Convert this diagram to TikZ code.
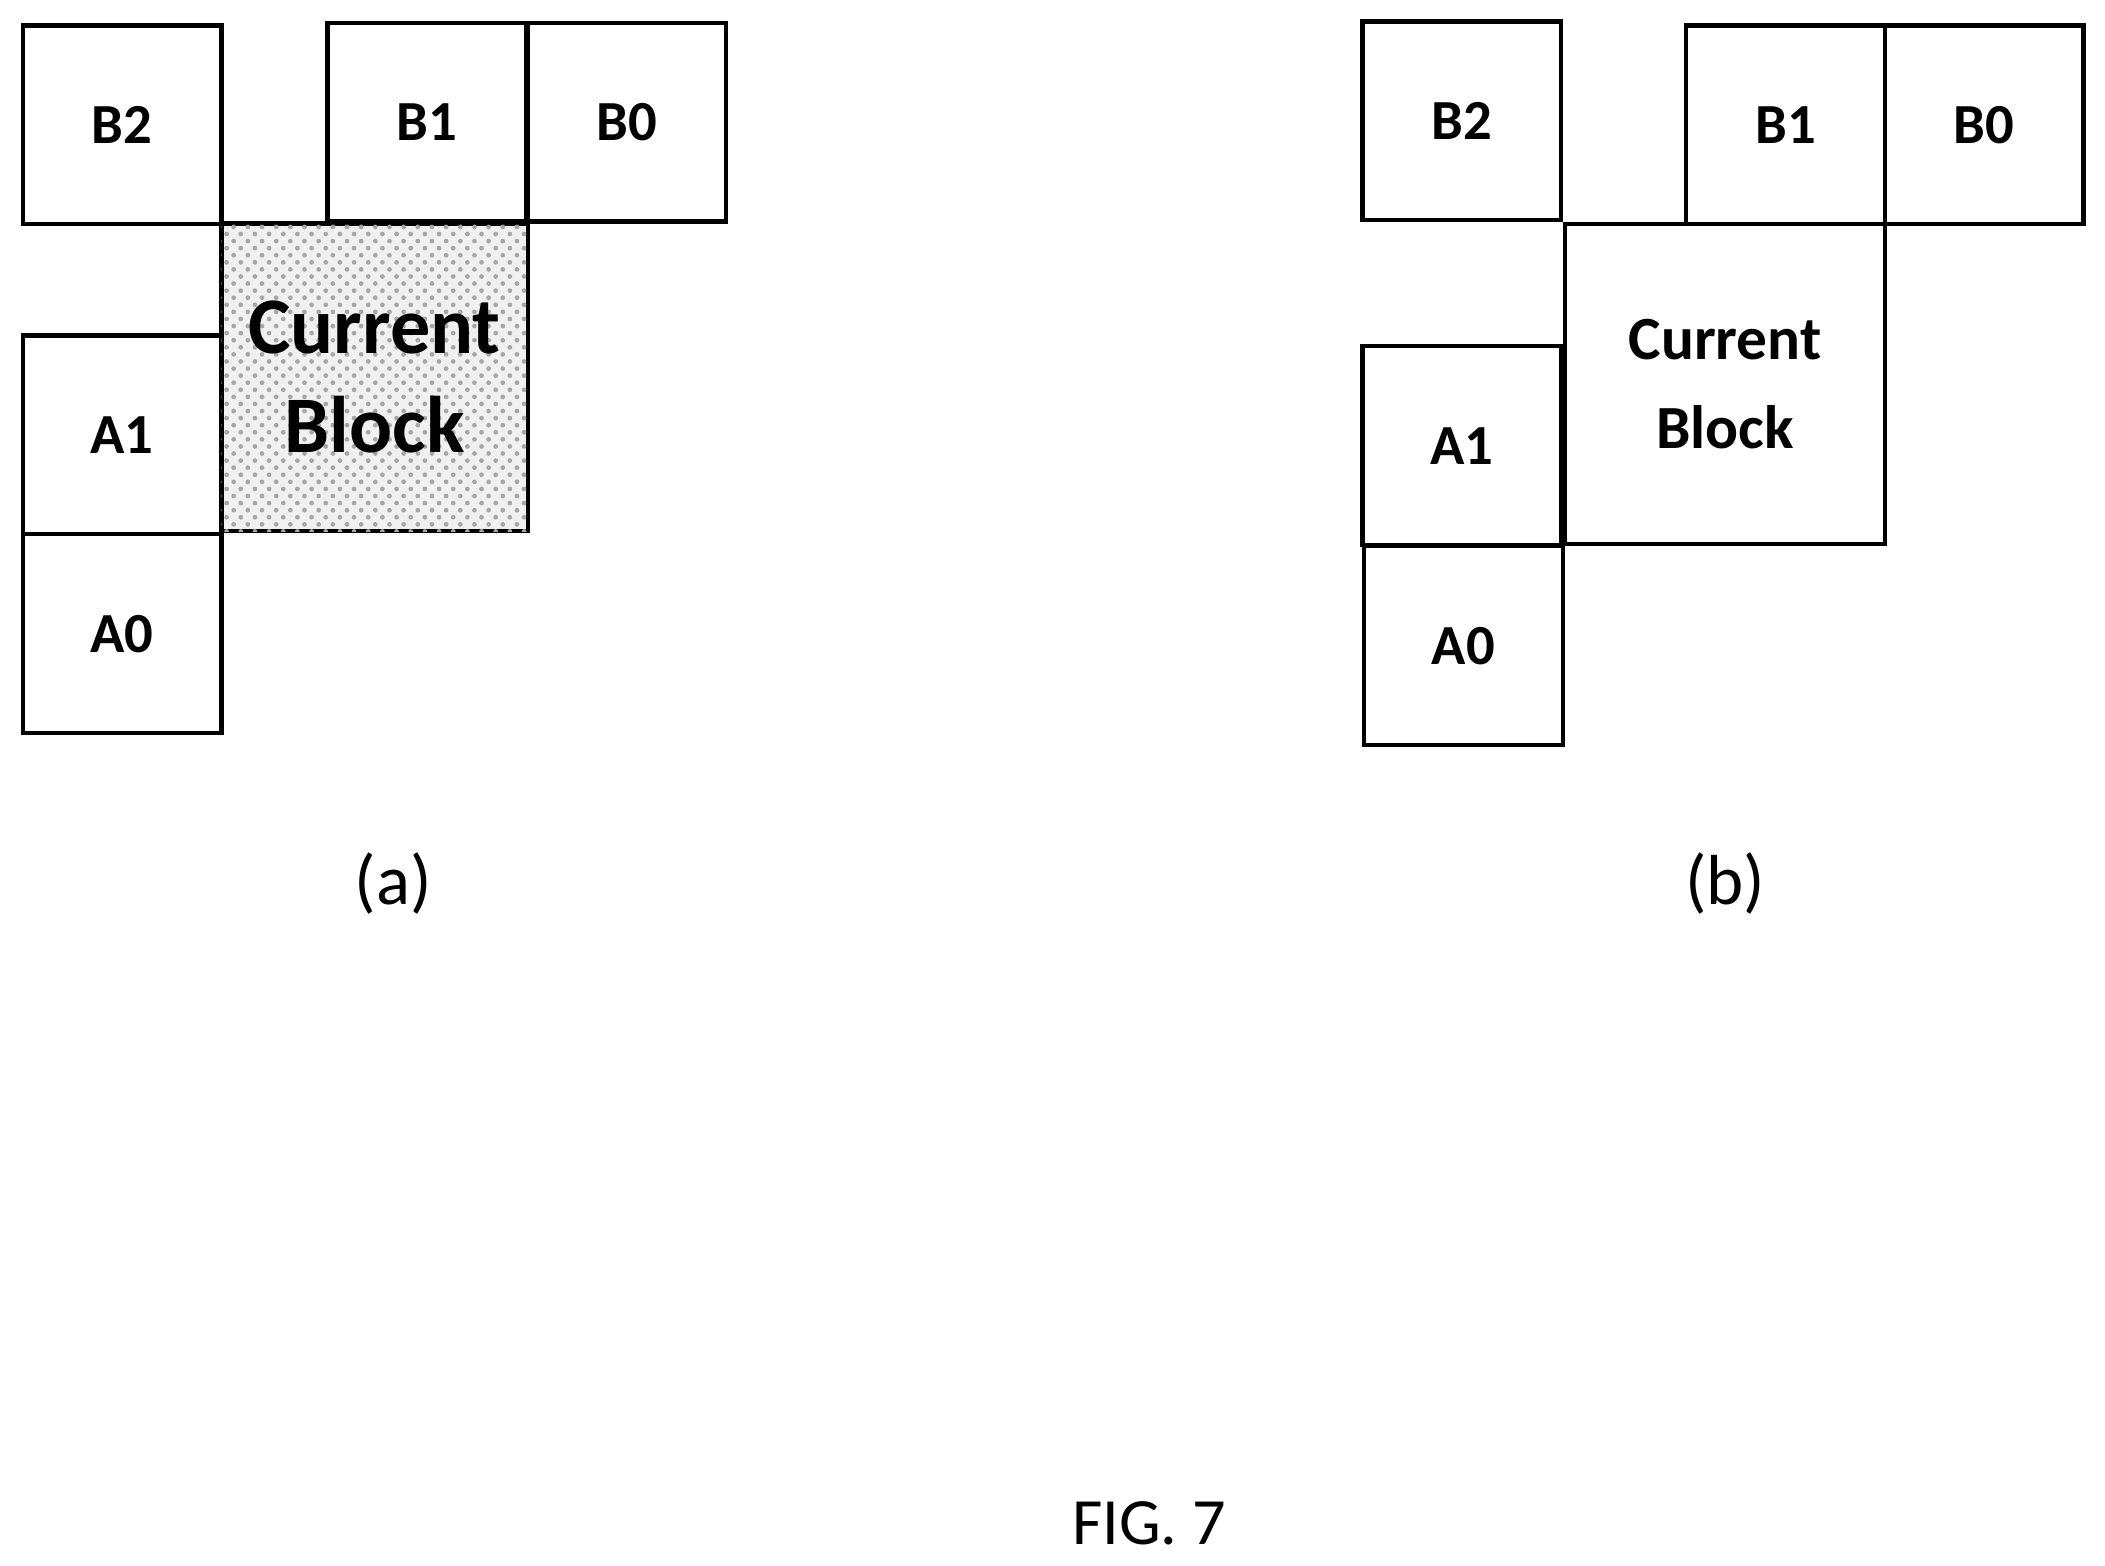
\documentclass[tikz,border=0pt]{standalone}
\usepackage{fontspec}
\setmainfont{Carlito}
\usetikzlibrary{patterns}
\begin{document}
\begin{tikzpicture}[x=0.01cm,y=-0.01cm,
    blk/.style={draw, line width=0.9pt, minimum size=1.48cm, inner sep=0pt,
      font=\fontsize{12}{14}\selectfont\bfseries},
    cur/.style={draw, line width=0.9pt, inner sep=0pt, align=center}]
    \useasboundingbox (0,0) rectangle (1568,1166);
    % (a)
    \node[blk] (aB2) at (91,93) {B2};
    \node[blk] (aB1) at (318,91) {B1};
    \node[blk] (aB0) at (467,91) {B0};
    \node[blk] (aA1) at (91,324) {A1};
    \node[blk] (aA0) at (91,472) {A0};
    \node[cur, minimum width=2.28cm, minimum height=2.29cm, fill=black!6,
      postaction={pattern=crosshatch dots, pattern color=black!35},
      font=\fontsize{17}{21}\selectfont\bfseries] (aCur) at (279,281) {Current\\Block};
    \node[font=\fontsize{15}{18}\selectfont] (aLab) at (293,658) {(a)};
    % (b)
    \node[blk] (bB2) at (1089,90) {B2};
    \node[blk] (bB1) at (1330,93) {B1};
    \node[blk] (bB0) at (1478,93) {B0};
    \node[blk] (bA1) at (1089,332) {A1};
    \node[blk] (bA0) at (1090,481) {A0};
    \node[cur, minimum width=2.38cm, minimum height=2.38cm,
      font=\fontsize{13}{19}\selectfont\bfseries] (bCur) at (1285,286) {Current\\Block};
    \node[font=\fontsize{15}{18}\selectfont] (bLab) at (1285,658) {(b)};
    \node[font=\fontsize{14}{17}\selectfont] (fig) at (856,1135) {FIG. 7};
\end{tikzpicture}
\end{document}
